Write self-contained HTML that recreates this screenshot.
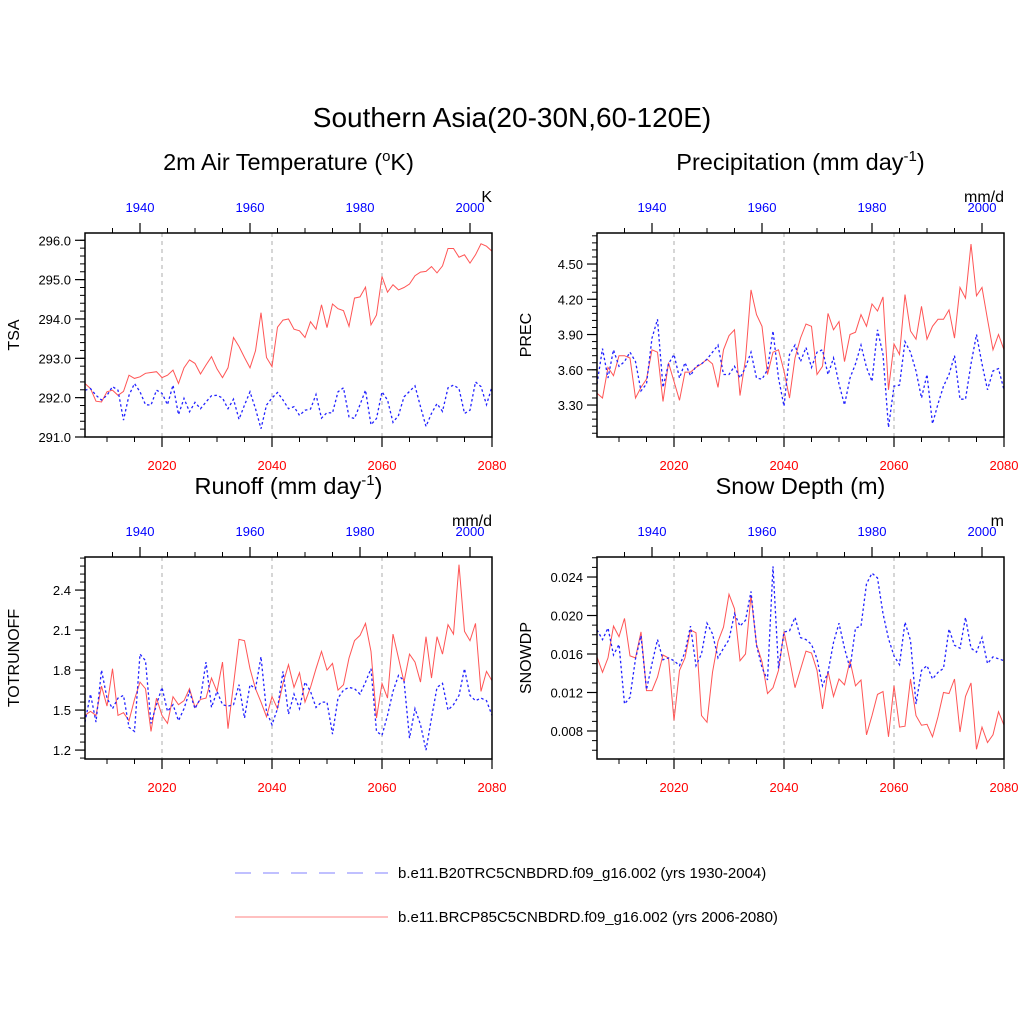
<!DOCTYPE html>
<html><head><meta charset="utf-8">
<style>
html,body{margin:0;padding:0;background:#fff;}
svg{display:block;font-family:"Liberation Sans",sans-serif;}
</style></head>
<body>
<svg id="chart" width="1024" height="1024" viewBox="0 0 1024 1024" xmlns="http://www.w3.org/2000/svg">
<rect width="1024" height="1024" fill="#fff"/>
<text x="512" y="127" font-size="28" text-anchor="middle">Southern Asia(20-30N,60-120E)</text>
<g>
<line x1="235" y1="873" x2="388" y2="873" stroke="#8080ff" stroke-width="1" stroke-dasharray="16,12"/>
<text x="398" y="878" font-size="15">b.e11.B20TRC5CNBDRD.f09_g16.002 (yrs 1930-2004)</text>
<line x1="235" y1="917" x2="388" y2="917" stroke="#ff8080" stroke-width="1"/>
<text x="398" y="922" font-size="15">b.e11.BRCP85C5CNBDRD.f09_g16.002 (yrs 2006-2080)</text>
</g>
</svg>
<script>
const futureYears0 = 2006, histYears0 = 1930, nYears = 75;
const bottomTicks = [2020, 2040, 2060, 2080];
const topTicks = [1940, 1960, 1980, 2000];

const tsaFuture = [292.36,292.23,291.91,291.89,292.15,292.19,292.06,292.16,292.57,292.49,292.53,292.62,292.64,292.66,292.51,292.57,292.70,292.36,292.76,292.96,292.87,292.60,292.83,293.04,292.73,292.51,292.76,293.53,293.30,293.02,292.76,293.19,294.16,293.02,292.79,293.79,293.97,294.00,293.74,293.70,293.53,293.93,293.74,294.36,293.78,294.38,294.26,294.21,293.81,294.53,294.56,294.81,293.85,294.10,295.08,294.68,294.87,294.74,294.80,294.89,295.10,295.19,295.21,295.33,295.17,295.35,295.79,295.79,295.57,295.63,295.42,295.63,295.91,295.85,295.72];
const tsaHist = [292.19,292.23,292.06,291.94,292.06,292.28,292.19,291.43,292.06,292.36,292.15,291.82,291.81,292.19,292.11,291.82,292.32,291.57,291.98,291.64,291.88,291.72,291.89,292.05,292.06,291.99,291.72,291.96,291.45,291.81,292.15,291.72,291.21,291.81,291.99,292.13,291.94,291.72,291.77,291.55,291.68,291.71,292.08,291.48,291.62,291.61,292.15,292.25,291.51,291.47,291.82,292.19,291.31,291.47,292.15,291.94,291.37,291.55,292.02,292.16,292.30,291.77,291.27,291.60,291.85,291.65,292.25,292.32,292.23,291.60,291.68,292.40,292.28,291.82,292.28];
const precFuture = [3.40,3.36,3.62,3.55,3.72,3.72,3.70,3.36,3.45,3.52,3.77,3.75,3.33,3.66,3.50,3.34,3.58,3.58,3.62,3.65,3.69,3.65,3.45,3.77,3.89,3.94,3.38,3.69,4.28,4.07,3.97,3.56,3.75,3.77,3.59,3.36,3.70,3.87,3.99,3.97,3.56,3.63,4.08,3.94,4.01,3.67,3.90,3.92,4.07,3.97,4.16,4.10,4.22,3.43,3.82,3.73,4.24,3.93,3.86,4.14,3.86,3.97,4.03,4.03,4.11,3.87,4.30,4.21,4.67,4.23,4.30,4.03,3.77,3.90,3.77];
const precHist = [3.48,3.78,3.53,3.77,3.63,3.67,3.75,3.67,3.42,3.48,3.87,4.03,3.45,3.65,3.73,3.53,3.66,3.55,3.63,3.65,3.69,3.75,3.81,3.56,3.56,3.63,3.53,3.62,3.75,3.53,3.52,3.60,3.93,3.53,3.29,3.73,3.81,3.67,3.79,3.62,3.75,3.77,3.56,3.70,3.48,3.30,3.53,3.65,3.81,3.62,3.50,3.94,3.73,3.11,3.46,3.47,3.84,3.75,3.59,3.36,3.56,3.14,3.31,3.46,3.56,3.72,3.35,3.35,3.65,3.90,3.65,3.43,3.59,3.61,3.43];
const runoffFuture = [1.46,1.49,1.46,1.68,1.53,1.81,1.46,1.48,1.42,1.58,1.71,1.66,1.34,1.59,1.46,1.40,1.60,1.54,1.57,1.66,1.52,1.58,1.59,1.74,1.64,1.86,1.36,1.69,2.03,2.02,1.81,1.66,1.56,1.45,1.60,1.51,1.70,1.84,1.67,1.78,1.56,1.67,1.81,1.94,1.80,1.85,1.65,1.69,1.89,2.02,2.06,2.15,1.94,1.44,1.70,1.59,2.07,1.89,1.71,1.92,1.86,1.71,2.05,1.74,2.05,1.92,2.14,2.07,2.59,2.09,2.02,2.15,1.64,1.79,1.72];
const runoffHist = [1.41,1.62,1.41,1.80,1.59,1.51,1.59,1.61,1.37,1.34,1.92,1.87,1.40,1.54,1.67,1.49,1.54,1.42,1.51,1.64,1.51,1.59,1.86,1.52,1.64,1.54,1.53,1.54,1.69,1.44,1.69,1.66,1.90,1.49,1.39,1.51,1.79,1.47,1.62,1.51,1.71,1.64,1.52,1.56,1.56,1.32,1.59,1.65,1.67,1.66,1.62,1.71,1.81,1.34,1.31,1.46,1.64,1.76,1.72,1.29,1.51,1.39,1.20,1.44,1.67,1.70,1.50,1.54,1.61,1.81,1.61,1.57,1.59,1.57,1.46];
const snowFuture = [0.0157,0.0141,0.0156,0.0189,0.0178,0.0197,0.0158,0.0156,0.0183,0.0122,0.0122,0.0136,0.0159,0.0156,0.0091,0.0143,0.0156,0.0185,0.0182,0.0096,0.0089,0.0141,0.0173,0.0188,0.0222,0.0207,0.0153,0.0160,0.0221,0.0170,0.0152,0.0119,0.0125,0.0143,0.0183,0.0155,0.0125,0.0144,0.0163,0.0161,0.0143,0.0103,0.0142,0.0116,0.0134,0.0128,0.0153,0.0127,0.0133,0.0076,0.0096,0.0118,0.0121,0.0074,0.0127,0.0084,0.0085,0.0134,0.0096,0.0086,0.0087,0.0074,0.0095,0.0120,0.0119,0.0134,0.0079,0.0116,0.0130,0.0061,0.0084,0.0068,0.0076,0.0100,0.0086];
const snowHist = [0.0185,0.0175,0.0187,0.0159,0.0170,0.0108,0.0115,0.0155,0.0179,0.0123,0.0150,0.0175,0.0154,0.0156,0.0153,0.0148,0.0162,0.0189,0.0148,0.0160,0.0192,0.0181,0.0156,0.0166,0.0175,0.0202,0.0189,0.0195,0.0225,0.0169,0.0146,0.0133,0.0251,0.0145,0.0183,0.0184,0.0198,0.0177,0.0175,0.0170,0.0155,0.0127,0.0141,0.0172,0.0192,0.0166,0.0145,0.0187,0.0189,0.0233,0.0244,0.0239,0.0202,0.0176,0.0158,0.0149,0.0193,0.0174,0.0108,0.0143,0.0148,0.0134,0.0141,0.0145,0.0186,0.0169,0.0166,0.0198,0.0166,0.0162,0.0177,0.0150,0.0157,0.0155,0.0153];

const tsaTicks = [291.0,292.0,293.0,294.0,295.0,296.0];
const precTicks = [3.30,3.60,3.90,4.20,4.50];
const runoffTicks = [1.2,1.5,1.8,2.1,2.4];
const snowTicks = [0.008,0.012,0.016,0.020,0.024];

const svg = document.getElementById('chart');
const NS = 'http://www.w3.org/2000/svg';
function mk(tag, attrs, parent){
  const e = document.createElementNS(NS, tag);
  for (const k in attrs) e.setAttribute(k, attrs[k]);
  (parent||svg).appendChild(e);
  return e;
}

const panels = [
 {key:'tsa', title:'2m Air Temperature (', titleSup:'o', titleEnd:'K)', ylab:'TSA', unit:'K', x:85, y:233, w:407, h:204, ymin:291, ymax:296.185, ticks:tsaTicks, dec:1, minor:0.2, fut:tsaFuture, hist:tsaHist},
 {key:'prec', title:'Precipitation (mm day', titleSup:'-1', titleEnd:')', ylab:'PREC', unit:'mm/d', x:597, y:233, w:407, h:204, ymin:3.028, ymax:4.764, ticks:precTicks, dec:2, minor:0.06, fut:precFuture, hist:precHist},
 {key:'runoff', title:'Runoff (mm day', titleSup:'-1', titleEnd:')', ylab:'TOTRUNOFF', unit:'mm/d', x:85, y:557, w:407, h:202, ymin:1.133, ymax:2.648, ticks:runoffTicks, dec:1, minor:0.06, fut:runoffFuture, hist:runoffHist},
 {key:'snow', title:'Snow Depth (m)', titleSup:'', titleEnd:'', ylab:'SNOWDP', unit:'m', x:597, y:557, w:407, h:202, ymin:0.00509, ymax:0.02608, ticks:snowTicks, dec:3, minor:0.001, fut:snowFuture, hist:snowHist}
];

panels.forEach(p => {
  const g = mk('g', {});
  
  
  const xs = i => p.x + i * p.w / (nYears - 1);
  const ys = v => p.y + p.h - (v - p.ymin) / (p.ymax - p.ymin) * p.h;
  const xYearF = yr => xs(yr - futureYears0);
  const xYearH = yr => xs(yr - histYears0);

  const t = mk('text', {x: p.x + p.w/2, y: p.y - 63, 'font-size': 23.5, 'text-anchor':'middle'}, g);
  
  
  t.appendChild(document.createTextNode(p.title));
  if (p.titleSup){
    const s = mk('tspan', {'font-size': 15, dy: -9}, t); s.textContent = p.titleSup;
    const e = mk('tspan', {dy: 9}, t); e.textContent = p.titleEnd;
  }
  const u = mk('text', {x: p.x + p.w, y: p.y - 31, 'font-size': 16, 'text-anchor':'end'}, g);
  
  
  u.textContent = p.unit;
  const yl = mk('text', {x: p.x - 66, y: p.y + p.h/2, 'font-size': 16, 'text-anchor':'middle', transform:`rotate(-90 ${p.x-66} ${p.y+p.h/2})`}, g);
  
  
  yl.textContent = p.ylab;

  bottomTicks.forEach(yr => {
    const X = xYearF(yr);
    if (X < p.x + p.w - 2) {
      const l = mk('line', {x1:X, x2:X, y1:p.y, y2:p.y+p.h, stroke:'#bbb', 'stroke-width':1.2, 'stroke-dasharray':'4,4'}, g);
      
      
    }
  });

  const ph = p.hist.map((v,i)=>`${xs(i).toFixed(1)},${ys(v).toFixed(1)}`).join(' ');
  const pf = p.fut.map((v,i)=>`${xs(i).toFixed(1)},${ys(v).toFixed(1)}`).join(' ');
  const lf = mk('polyline', {points: pf, fill:'none', stroke:'#ff5555', 'stroke-width':1}, g);
  
  
  const lh = mk('polyline', {points: ph, fill:'none', stroke:'#2222ff', 'stroke-width':1.3, 'stroke-dasharray':'2.5,2.5'}, g);
  
  

  const fr = mk('rect', {x:p.x, y:p.y, width:p.w, height:p.h, fill:'none', stroke:'#000', 'stroke-width':1.5}, g);
  
  

  for (let v = Math.ceil(p.ymin/p.minor)*p.minor; v <= p.ymax + 1e-9; v += p.minor){
    const Y = ys(v);
    mk('line', {x1:p.x-5, x2:p.x, y1:Y, y2:Y, stroke:'#000', 'stroke-width':1}, g);
  }
  p.ticks.forEach(v => {
    const Y = ys(v);
    mk('line', {x1:p.x-10, x2:p.x, y1:Y, y2:Y, stroke:'#000', 'stroke-width':1.2}, g);
    const tl = mk('text', {x:p.x-14, y:Y+5, 'font-size':13, 'text-anchor':'end'}, g);
    
    
    tl.textContent = v.toFixed(p.dec);
  });
  for (let yr = 2010; yr <= 2080; yr += 5){
    const X = xYearF(yr);
    const major = bottomTicks.includes(yr);
    mk('line', {x1:X, x2:X, y1:p.y+p.h, y2:p.y+p.h+(major?10:5), stroke:'#000', 'stroke-width':major?1.2:1}, g);
    if (major){
      const tl = mk('text', {x:X, y:p.y+p.h+33, 'font-size':13, 'text-anchor':'middle', fill:'#ff0000'}, g);
      
      
      tl.textContent = yr;
    }
  }
  for (let yr = 1935; yr <= 2000; yr += 5){
    const X = xYearH(yr);
    const major = topTicks.includes(yr);
    mk('line', {x1:X, x2:X, y1:p.y, y2:p.y-(major?10:5), stroke:'#000', 'stroke-width':major?1.2:1}, g);
    if (major){
      const tl = mk('text', {x:X, y:p.y-21, 'font-size':13, 'text-anchor':'middle', fill:'#0000ff'}, g);
      
      
      tl.textContent = yr;
    }
  }
});
</script>
</body></html>
